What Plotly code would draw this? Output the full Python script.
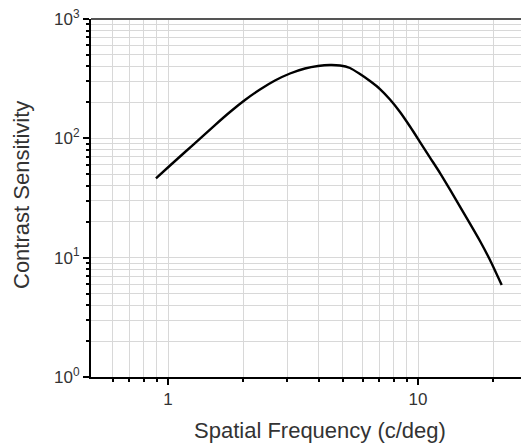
import plotly.graph_objects as go

# Data (spatial frequency in c/deg, contrast sensitivity)
freq = [0.895, 1.019, 1.17, 1.343, 1.542, 1.770, 2.032, 2.333, 2.679, 3.076,
        3.532, 3.981, 4.446, 4.875, 5.346, 5.861, 6.427, 7.047, 7.727, 8.472,
        9.290, 10.19, 11.17, 12.25, 13.43, 14.72, 16.14, 17.70, 19.41, 21.62]
sens = [46.2, 59.2, 76.8, 99.6, 129.3, 166.2, 209.4, 256.5, 305.1, 349.3,
        384.7, 403.6, 411.6, 407.6, 388.4, 345.9, 302.2, 259.0, 211.5, 166.2,
        125.6, 93.1, 69.0, 51.2, 37.2, 26.8, 19.3, 13.8, 9.55, 5.89]

x_major = [1, 10]
x_major_text = ["1", "10"]
x_minor = [0.6, 0.7, 0.8, 0.9, 2, 3, 4, 5, 6, 7, 8, 9, 20]
y_major = [1, 10, 100, 1000]
y_major_text = ["10<sup>0</sup>", "10<sup>1</sup>", "10<sup>2</sup>", "10<sup>3</sup>"]
y_minor = [m * d for d in (1, 10, 100) for m in range(2, 10)]

FONT = "Liberation Sans, Arial, sans-serif"
TXT = "#333333"
GRID = "#d8d8d8"

# The page body has an 8px default margin; the figure is sized to fill the rest.
W, H = 521, 438
L, T, B = 83, 11, 69
plot_w = W - L
plot_h = H - T - B

fig = go.Figure()
fig.add_trace(go.Scatter(x=freq, y=sens, mode="lines",
                         line=dict(color="black", width=2.4, shape="spline", smoothing=0.6),
                         showlegend=False, hoverinfo="skip"))

fig.update_xaxes(type="log", range=[-0.308, 1.444], automargin=False,
                 tickmode="array", tickvals=x_major, ticktext=x_major_text,
                 ticks="outside", ticklen=6, tickwidth=1.5, tickcolor="black",
                 showgrid=True, gridcolor=GRID, gridwidth=1,
                 showline=True, linecolor="black", linewidth=2, mirror=False,
                 zeroline=False, ticklabeloverflow="allow",
                 tickfont=dict(family=FONT, size=17, color=TXT),
                 minor=dict(tickmode="array", tickvals=x_minor, ticks="outside",
                            ticklen=3, tickwidth=1.5, tickcolor="black",
                            showgrid=True, gridcolor=GRID, gridwidth=1))
fig.update_yaxes(type="log", range=[0, 3], automargin=False,
                 tickmode="array", tickvals=y_major, ticktext=y_major_text,
                 ticks="outside", ticklen=6, tickwidth=1.5, tickcolor="black",
                 showgrid=True, gridcolor=GRID, gridwidth=1,
                 showline=True, linecolor="black", linewidth=2,
                 zeroline=False, ticklabeloverflow="allow",
                 tickfont=dict(family=FONT, size=17, color=TXT),
                 minor=dict(tickmode="array", tickvals=y_minor, ticks="outside",
                            ticklen=3, tickwidth=1.5, tickcolor="black",
                            showgrid=True, gridcolor=GRID, gridwidth=1))

# top border
fig.add_shape(type="line", xref="paper", yref="paper", x0=0, x1=1, y0=1, y1=1,
              line=dict(color="#555555", width=2))

fig.add_annotation(text="Spatial Frequency (c/deg)", xref="paper", yref="paper",
                   x=(320 - 91) / plot_w, y=-(430 - 377) / plot_h,
                   xanchor="center", yanchor="middle", showarrow=False,
                   font=dict(family=FONT, size=22, color=TXT))
fig.add_annotation(text="Contrast Sensitivity", xref="paper", yref="paper",
                   x=-(91 - 21) / plot_w, y=(377 - 195) / plot_h,
                   xanchor="center", yanchor="middle", showarrow=False, textangle=-90,
                   font=dict(family=FONT, size=22, color=TXT))

fig.update_layout(width=W, height=H,
                  margin=dict(l=L, r=0, t=T, b=B),
                  plot_bgcolor="white", paper_bgcolor="white")

fig.write_html("out.html")
